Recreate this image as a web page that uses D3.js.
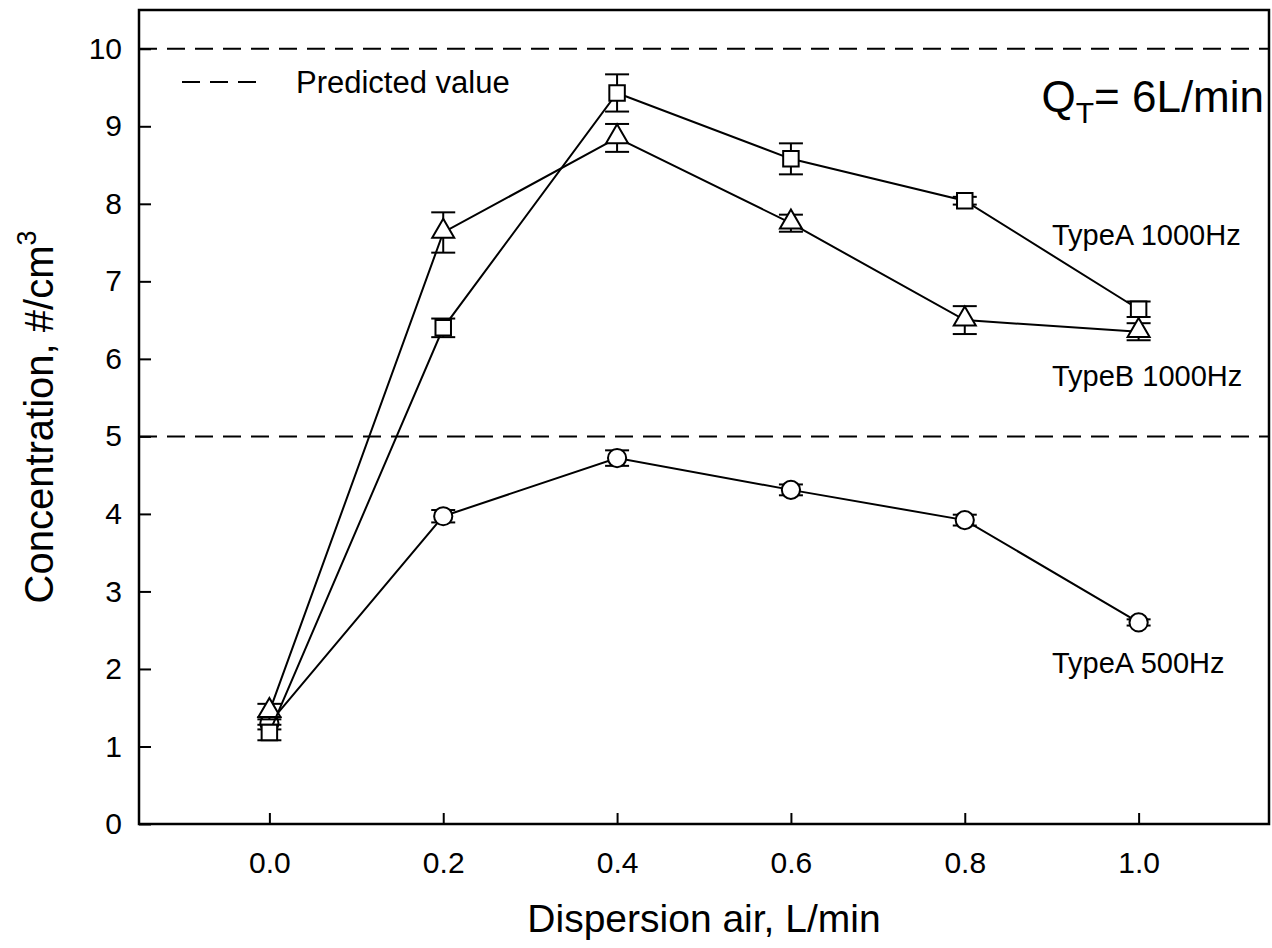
<!DOCTYPE html>
<html>
<head>
<meta charset="utf-8">
<script src="https://cdn.jsdelivr.net/npm/d3@7"></script>
<style>
  body { margin: 0; background: #fff; }
  text { font-family: "Liberation Sans", Arial, sans-serif; fill: #000; }
</style>
</head>
<body>
<script>
// data
var airFlow = [0.0, 0.2, 0.4, 0.6, 0.8, 1.0];

var typeA1000 = [1.18, 6.40, 9.43, 8.58, 8.04, 6.64];
var typeA1000Err = [0.10, 0.12, 0.24, 0.20, 0.05, 0.10];

var typeB1000 = [1.45, 7.63, 8.85, 7.75, 6.50, 6.35];
var typeB1000Err = [0.10, 0.26, 0.18, 0.11, 0.18, 0.11];

var typeA500 = [1.30, 3.97, 4.72, 4.31, 3.92, 2.60];
var typeA500Err = [0.08, 0.08, 0.10, 0.07, 0.07, 0.04];

var predicted = [10, 5];
var xTicks = [0.0, 0.2, 0.4, 0.6, 0.8, 1.0];
var yTicks = [0, 1, 2, 3, 4, 5, 6, 7, 8, 9, 10];

var margin = { top: 10, right: 3, bottom: 124, left: 139 };
var width = 1272 - margin.left - margin.right,
    height = 948 - margin.top - margin.bottom;

var svg = d3.select("body").append("svg")
    .attr("width", 1272)
    .attr("height", 948)
  .append("g")
    .attr("transform", "translate(" + margin.left + "," + margin.top + ")");

var xScale = d3.scaleLinear().domain([-0.15, 1.15]).range([0, width]);
var yScale = d3.scaleLinear().domain([0, 10.5]).range([height, 0]);

// predicted value lines
svg.selectAll(".pred")
    .data(predicted)
  .enter().append("line")
    .attr("class", "pred")
    .attr("x1", 0).attr("x2", width)
    .attr("y1", function (d) { return yScale(d); })
    .attr("y2", function (d) { return yScale(d); })
    .attr("stroke", "#000")
    .attr("stroke-width", 2)
    .attr("stroke-dasharray", "18,10");

// axes (ticks point inward)
var xAxis = d3.axisBottom(xScale)
    .tickValues(xTicks)
    .tickSize(-11)
    .tickPadding(28)
    .tickFormat(d3.format(".1f"));

var yAxis = d3.axisLeft(yScale)
    .tickValues(yTicks)
    .tickSize(-12)
    .tickPadding(17)
    .tickFormat(d3.format("d"));

var gx = svg.append("g")
    .attr("transform", "translate(0," + height + ")")
    .call(xAxis);
var gy = svg.append("g").call(yAxis);

[gx, gy].forEach(function (g) {
  g.select(".domain").remove();
  g.selectAll(".tick line").attr("stroke", "#000").attr("stroke-width", 2);
  g.selectAll(".tick text")
    .style("font-family", "'Liberation Sans', Arial, sans-serif")
    .style("font-size", "30px")
    .attr("fill", "#000");
});

// frame
svg.append("rect")
    .attr("x", 0).attr("y", 0)
    .attr("width", width).attr("height", height)
    .attr("fill", "none")
    .attr("stroke", "#000")
    .attr("stroke-width", 2.5);

var series = [
  { name: "TypeA 500Hz", values: typeA500, err: typeA500Err, shape: "circle" },
  { name: "TypeB 1000Hz", values: typeB1000, err: typeB1000Err, shape: "triangle" },
  { name: "TypeA 1000Hz", values: typeA1000, err: typeA1000Err, shape: "square" }
];

var line = d3.line()
    .x(function (d) { return xScale(d.x); })
    .y(function (d) { return yScale(d.y); });

var capHalf = 12;

series.forEach(function (s) {
  var pts = airFlow.map(function (x, i) {
    return { x: x, y: s.values[i], e: s.err[i] };
  });
  var g = svg.append("g");

  g.append("path")
      .datum(pts)
      .attr("d", line)
      .attr("fill", "none")
      .attr("stroke", "#000")
      .attr("stroke-width", 2);

  var eb = g.selectAll(".err").data(pts).enter().append("g");
  eb.append("line")
      .attr("x1", function (d) { return xScale(d.x); })
      .attr("x2", function (d) { return xScale(d.x); })
      .attr("y1", function (d) { return yScale(d.y - d.e); })
      .attr("y2", function (d) { return yScale(d.y + d.e); })
      .attr("stroke", "#000").attr("stroke-width", 2);
  [-1, 1].forEach(function (sgn) {
    eb.append("line")
        .attr("x1", function (d) { return xScale(d.x) - capHalf; })
        .attr("x2", function (d) { return xScale(d.x) + capHalf; })
        .attr("y1", function (d) { return yScale(d.y + sgn * d.e); })
        .attr("y2", function (d) { return yScale(d.y + sgn * d.e); })
        .attr("stroke", "#000").attr("stroke-width", 2);
  });

  var sym = s.shape === "circle" ? d3.symbolCircle
          : s.shape === "triangle" ? d3.symbolTriangle : d3.symbolSquare;
  var size = s.shape === "circle" ? 260 : s.shape === "triangle" ? 210 : 240;

  g.selectAll(".pt").data(pts).enter().append("path")
      .attr("d", d3.symbol().type(sym).size(size))
      .attr("transform", function (d) {
        var dy = s.shape === "triangle" ? -1 : 0;
        return "translate(" + xScale(d.x) + "," + (yScale(d.y) + dy) + ")";
      })
      .attr("fill", "#fff")
      .attr("stroke", "#000")
      .attr("stroke-width", 2);
});

// series labels (baselines in plot pixels)
var labels = ["TypeA 1000Hz", "TypeB 1000Hz", "TypeA 500Hz"];
var labelBase = [235, 376, 663];
svg.selectAll(".lab").data(labels).enter().append("text")
    .attr("x", 913)
    .attr("y", function (d, i) { return labelBase[i]; })
    .style("font-size", "29px")
    .text(function (d) { return d; });

// legend for predicted value
svg.append("line")
    .attr("x1", 43).attr("x2", 126)
    .attr("y1", 72).attr("y2", 72)
    .attr("stroke", "#000").attr("stroke-width", 2)
    .attr("stroke-dasharray", "18,10");
svg.append("text")
    .attr("x", 157).attr("y", 83)
    .style("font-size", "31px")
    .text("Predicted value");

// Q_T annotation
var qt = svg.append("text")
    .attr("x", width - 5).attr("y", 102)
    .attr("text-anchor", "end")
    .style("font-size", "44px");
qt.append("tspan").text("Q");
qt.append("tspan").attr("dy", 11).style("font-size", "30px").text("T");
qt.append("tspan").attr("dy", -11).text("= 6L/min");

// axis titles
svg.append("text")
    .attr("x", width / 2)
    .attr("y", height + 108)
    .attr("text-anchor", "middle")
    .style("font-size", "39px")
    .text("Dispersion air, L/min");

var yt = svg.append("text")
    .attr("transform", "translate(-86," + (height / 2) + ") rotate(-90)")
    .attr("text-anchor", "middle")
    .style("font-size", "40px");
yt.append("tspan").text("Concentration, #/cm");
yt.append("tspan").attr("dy", -17).style("font-size", "27px").text("3");
</script>
</body>
</html>
